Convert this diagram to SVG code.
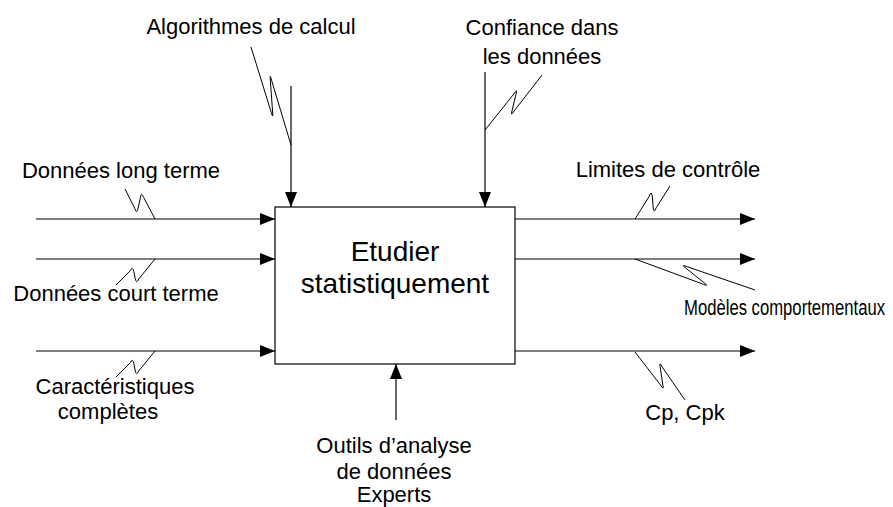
<svg xmlns="http://www.w3.org/2000/svg" width="893" height="507" viewBox="0 0 893 507">
  <style>
    .lbl { font-family: "Liberation Sans", Arial, sans-serif; font-size: 22px; fill: #000; }
    .mid { text-anchor: middle; }
    .title { font-family: "Liberation Sans", Arial, sans-serif; font-size: 28px; fill: #000; text-anchor: middle; }
    .arrow { stroke: #000; stroke-width: 1.2; fill: none; marker-end: url(#ah); }
    .sq { stroke: #000; stroke-width: 1; fill: none; stroke-linejoin: round; }
  </style>
  <defs>
    <marker id="ah" markerUnits="userSpaceOnUse" markerWidth="15" markerHeight="12" refX="15" refY="6" orient="auto">
      <path d="M0,0 L15,6 L0,12 z" fill="#000"/>
    </marker>
  </defs>
  <rect width="893" height="507" fill="#fff"/>

  <g id="node-etudier">
    <rect x="275" y="207" width="240" height="157" fill="#fff" stroke="#000" stroke-width="1.2"/>
    <text class="title" x="395" y="261">Etudier</text>
    <text class="title" x="395" y="293">statistiquement</text>
  </g>

  <g id="connectors">
    <g id="in-long">
      <path class="arrow" d="M36,219 H275"/>
      <path class="sq" d="M125,189 L134.8,208.5 Q136.8,215 138.1,208.1 L140.4,197.9 Q141,191 143.7,197.5 L155,219"/>
      <text class="lbl mid" x="121" y="178">Données long terme</text>
    </g>
    <g id="in-court">
      <path class="arrow" d="M36,259 H275"/>
      <path class="sq" d="M116,285 L130.4,270.6 Q132.5,265.5 133.9,271.9 L135.1,278.1 Q136.3,284.5 138.7,279 L155,259"/>
      <text class="lbl mid" x="116" y="301">Données court terme</text>
    </g>
    <g id="in-carac">
      <path class="arrow" d="M36,351 H275"/>
      <path class="sq" d="M116,377 L130.4,362.6 Q132.5,357.5 133.9,363.9 L135.1,370.1 Q136.3,376.5 138.7,371 L155,351"/>
      <text class="lbl mid" x="115" y="394">Caractéristiques</text>
      <text class="lbl mid" x="108" y="419">complètes</text>
    </g>
    <g id="ctl-algo">
      <path class="arrow" d="M291,86 V207"/>
      <path class="sq" d="M251,47 L271.2,112.3 Q273.5,120 272.6,112 L270.4,81 Q269.5,72 271.7,80.7 L291,145"/>
      <text class="lbl mid" x="251" y="34">Algorithmes de calcul</text>
    </g>
    <g id="ctl-conf">
      <path class="arrow" d="M485,72 V207"/>
      <path class="sq" d="M485,130 L513.9,93.9 Q518,87.5 515.8,94.9 L512.2,110.1 Q510.2,117.5 514.1,111 L542,75"/>
      <text class="lbl mid" x="542" y="35">Confiance dans</text>
      <text class="lbl mid" x="542" y="64">les données</text>
    </g>
    <g id="out-limites">
      <path class="arrow" d="M515,219 H755"/>
      <path class="sq" d="M635,219 L649.3,196.2 Q651.2,189.5 652.4,197 L653.1,207 Q653.8,214.5 656.2,207.8 L670,186"/>
      <text class="lbl mid" x="668" y="177">Limites de contrôle</text>
    </g>
    <g id="out-modeles">
      <path class="arrow" d="M515,259 H755"/>
      <path class="sq" d="M635,259 L702.4,283.9 Q710.5,287.5 703.3,282.2 L686.7,268.8 Q679.5,263.5 687.7,266.9 L755,290"/>
      <text class="lbl" x="684" y="315" textLength="201" lengthAdjust="spacingAndGlyphs">Modèles comportementaux</text>
    </g>
    <g id="out-cp">
      <path class="arrow" d="M515,351 H755"/>
      <path class="sq" d="M635,352 L660.5,385 Q664.5,391.5 662.7,384.1 L660.3,367.9 Q658.8,360.5 662.3,367.1 L685,400"/>
      <text class="lbl mid" x="685" y="420">Cp, Cpk</text>
    </g>
    <g id="mech-outils">
      <path class="arrow" d="M396,420 V364"/>
      <text class="lbl mid" x="394" y="453">Outils d’analyse</text>
      <text class="lbl mid" x="394" y="479">de données</text>
      <text class="lbl mid" x="394" y="502">Experts</text>
    </g>
  </g>
</svg>
